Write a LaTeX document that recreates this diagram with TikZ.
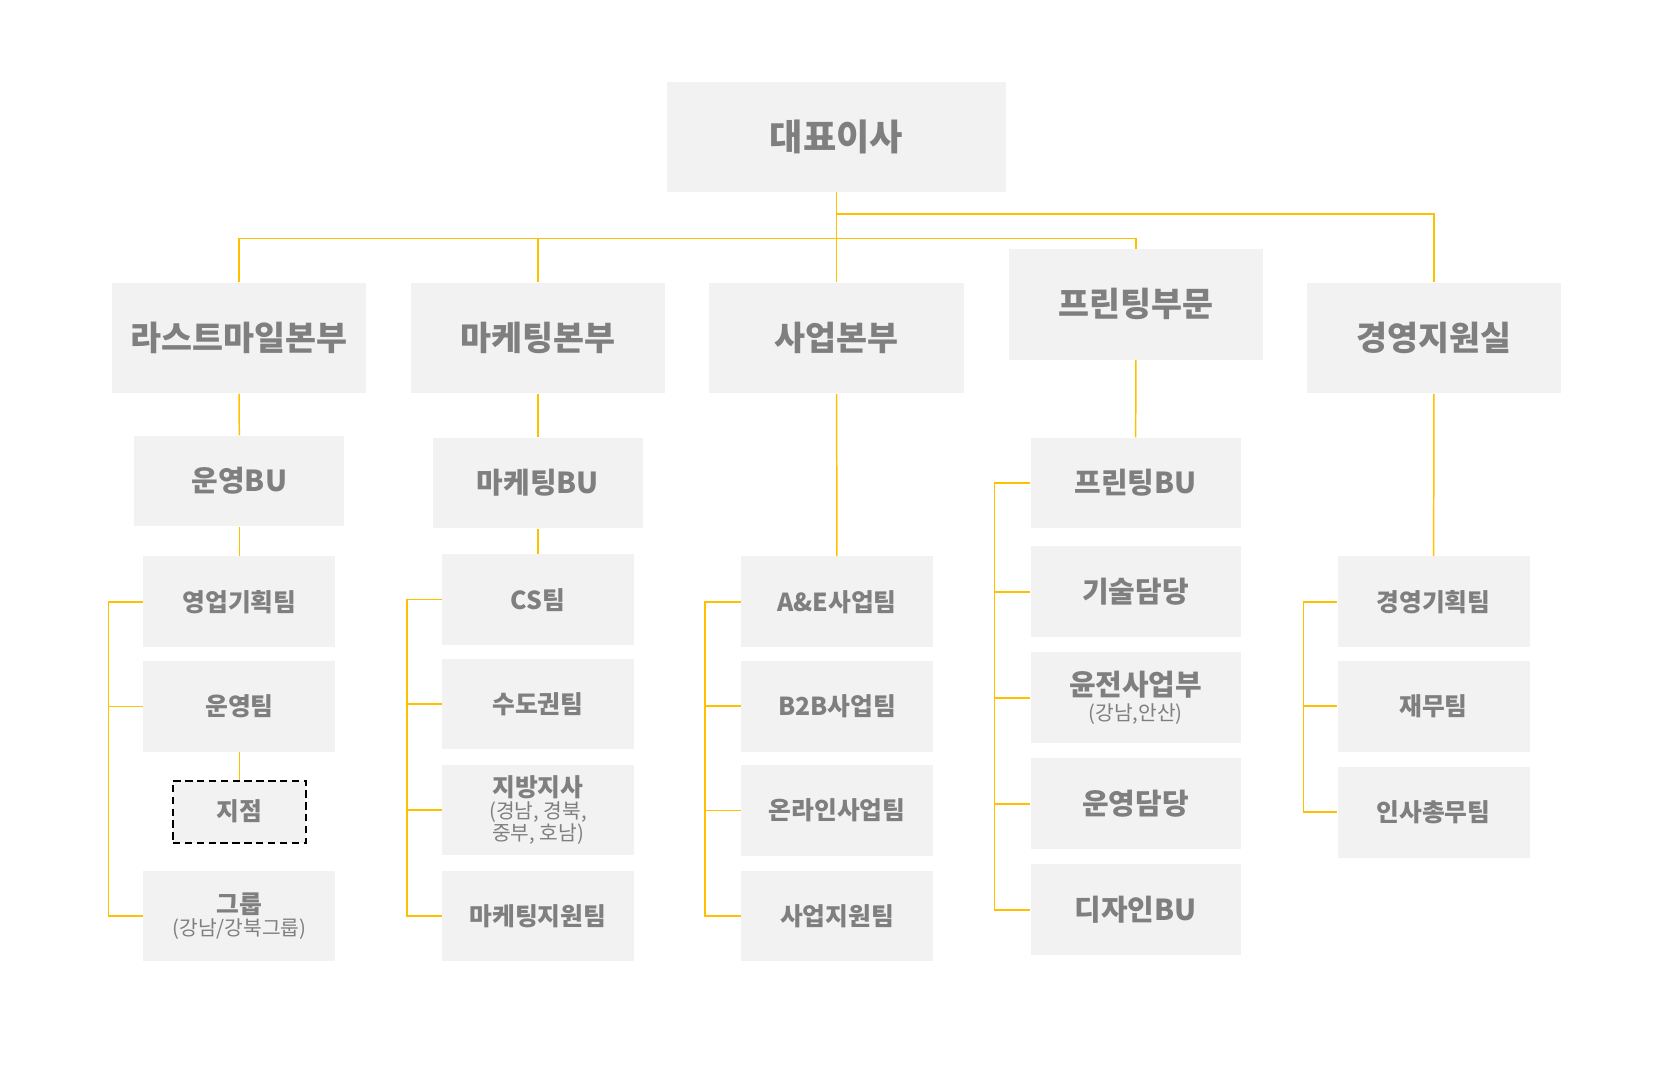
\documentclass[tikz,border=0pt]{standalone}
\usepackage{fontspec}
\setmainfont{Noto Sans CJK KR}
\usepackage{xcolor}
\usepackage{tikz}
\usetikzlibrary{positioning, calc}
\definecolor{boxgray}{HTML}{F2F2F2}
\definecolor{txtgray}{HTML}{7F7F7F}
\definecolor{linegold}{HTML}{FFC000}
\newcommand{\px}{0.025cm}
\newcommand{\subtxt}[1]{{\mdseries\fontsize{13.7}{16}\selectfont #1}}
\tikzstyle{ceobox} = [rectangle, minimum width=322*\px, minimum height=104*\px, inner sep=0pt, fill=boxgray, text=txtgray, font=\bfseries\fontsize{24.4}{28}\selectfont]
\tikzstyle{headbox} = [rectangle, minimum width=241*\px, minimum height=105*\px, inner sep=0pt, fill=boxgray, text=txtgray, font=\bfseries\fontsize{22.7}{26}\selectfont]
\tikzstyle{bubox} = [rectangle, minimum width=199*\px, minimum height=86*\px, inner sep=0pt, align=center, fill=boxgray, text=txtgray, font=\bfseries\fontsize{19.5}{22}\selectfont]
\tikzstyle{teambox} = [rectangle, minimum width=182*\px, minimum height=86*\px, inner sep=0pt, align=center, fill=boxgray, text=txtgray, font=\bfseries\fontsize{16.7}{19}\selectfont]
\tikzstyle{branchbox} = [rectangle, minimum width=126*\px, minimum height=59*\px, inner sep=0pt, fill=boxgray, draw=black, dash pattern=on 5pt off 3pt, line width=1.3pt, text=txtgray, font=\bfseries\fontsize{16.7}{19}\selectfont]
\tikzstyle{link} = [draw=linegold, line width=1pt]

\begin{document}
\begin{tikzpicture}[x=\px, y=-\px]
\useasboundingbox (0,0) rectangle (1568,1010);
% Top
\node (ceo) [ceobox] at (793,130) {대표이사};

% Divisions
\node (lastmile) [headbox] at (226.5,320.5) {라스트마일본부};
\node (mkt) [headbox] at (510,320.5) {마케팅본부};
\node (biz) [headbox] at (793,320.5) {사업본부};
\node (print) [headbox] at (1077,288.5) {프린팅부문};
\node (mgmt) [headbox] at (1359.5,320.5) {경영지원실};

% Business units
\node (opbu) [bubox] at (227,456) {운영BU};
\node (mbu) [bubox] at (510,458) {마케팅BU};

% Teams
\node (sales) [teambox] at (227,570.5) {영업기획팀};
\node (opteam) [teambox] at (227,670) {운영팀};
\node (branch) [branchbox] at (227,769.5) {지점};
\node (group) [teambox] at (227,868.5) {그룹\\[-4pt]\subtxt{(강남/강북그룹)}};

\node (cs) [teambox] at (510,568.5) {CS팀};
\node (metro) [teambox] at (510,667.5) {수도권팀};
\node (region) [teambox] at (510,768) {지방지사\\[-4pt]\subtxt{(경남, 경북,}\\[-4pt]\subtxt{중부, 호남)}};
\node (mktsup) [teambox] at (510,868.5) {마케팅지원팀};

\node (ae) [teambox] at (793.5,570.5) {A\&E사업팀};
\node (b2b) [teambox] at (793.5,669.5) {B2B사업팀};
\node (online) [teambox] at (793.5,768.5) {온라인사업팀};
\node (bizsup) [teambox] at (793.5,868.5) {사업지원팀};

\node (pbu) [bubox] at (1076.5,458) {프린팅BU};
\node (tech) [bubox] at (1076.5,561) {기술담당};
\node (press) [bubox] at (1076.5,661.5) {윤전사업부\\[-5pt]\subtxt{(강남,안산)}};
\node (opchg) [bubox] at (1076.5,762) {운영담당};
\node (design) [bubox] at (1076.5,862.5) {디자인BU};

\node (mplan) [teambox] at (1359,570.5) {경영기획팀};
\node (fin) [teambox] at (1359,669.5) {재무팀};
\node (hr) [teambox] at (1359,770) {인사총무팀};

% Links
\coordinate (bus) at (793,226);
\coordinate (bus2) at (793,203);
\draw [link] (ceo) -- (bus);
\foreach \n in {lastmile,mkt,biz,print}
  \draw [link] (\n.north) |- (bus);
\draw [link] (mgmt.north) |- (bus2);

\draw [link] (lastmile) -- (opbu);
\draw [link] (opbu) -- (sales);
\draw [link] (opteam) -- (branch);
\draw [link] (mkt) -- (mbu);
\draw [link] (mbu) -- (cs);
\draw [link] (biz) -- (ae);
\draw [link] (print) -- (pbu);
\draw [link] (mgmt) -- (mplan);

% Brackets
\draw [link] (sales.west) -- ++(-33,0) |- (group.west);
\draw [link] (opteam.west) -- ++(-33,0);
\draw [link] (cs.west) -- ++(-33,0) |- (mktsup.west);
\foreach \n in {metro,region}
  \draw [link] (\n.west) -- ++(-33,0);
\draw [link] (ae.west) -- ++(-34,0) |- (bizsup.west);
\foreach \n in {b2b,online}
  \draw [link] (\n.west) -- ++(-34,0);
\draw [link] (pbu.west) -- ++(-34,0) |- (design.west);
\foreach \n in {tech,press,opchg}
  \draw [link] (\n.west) -- ++(-34,0);
\draw [link] (mplan.west) -- ++(-32,0) |- (hr.west);
\draw [link] (fin.west) -- ++(-32,0);
\end{tikzpicture}
\end{document}
